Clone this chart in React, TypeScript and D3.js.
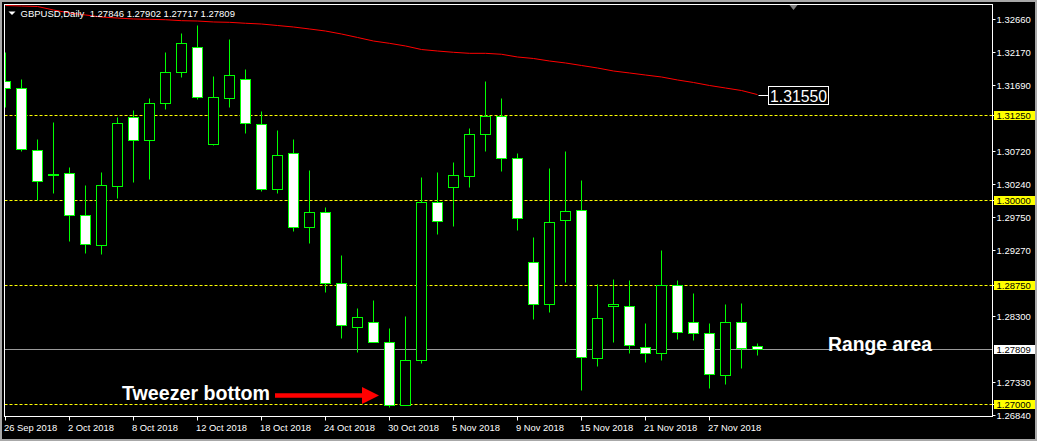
import * as d3 from 'd3';

// daily bars, 26 Sep 2018 .. 30 Nov 2018
const dates = [
  '2018-09-26', '2018-09-27', '2018-09-28', '2018-10-01', '2018-10-02', '2018-10-03', '2018-10-04', '2018-10-05',
  '2018-10-08', '2018-10-09', '2018-10-10', '2018-10-11', '2018-10-12', '2018-10-15', '2018-10-16', '2018-10-17',
  '2018-10-18', '2018-10-19', '2018-10-22', '2018-10-23', '2018-10-24', '2018-10-25', '2018-10-26', '2018-10-29',
  '2018-10-30', '2018-10-31', '2018-11-01', '2018-11-02', '2018-11-05', '2018-11-06', '2018-11-07', '2018-11-08',
  '2018-11-09', '2018-11-12', '2018-11-13', '2018-11-14', '2018-11-15', '2018-11-16', '2018-11-19', '2018-11-20',
  '2018-11-21', '2018-11-22', '2018-11-23', '2018-11-26', '2018-11-27', '2018-11-28', '2018-11-29', '2018-11-30',
];

const open = [
  1.31750, 1.31647, 1.30735, 1.30380, 1.30397, 1.29779, 1.29338, 1.30206, 1.31221, 1.30882, 1.31426, 1.31882,
  1.32250, 1.30824, 1.31500, 1.31779, 1.31118, 1.30162, 1.30691, 1.29603, 1.29824, 1.28779, 1.28132, 1.28206,
  1.27912, 1.26985, 1.27647, 1.29971, 1.30191, 1.30353, 1.30971, 1.31235, 1.30618, 1.29088, 1.28471, 1.29706,
  1.29853, 1.27676, 1.28441, 1.28441, 1.27838, 1.27750, 1.28750, 1.28206, 1.28044, 1.27426, 1.28206, 1.27846,
];
const high = [
  1.32176, 1.31779, 1.30897, 1.31147, 1.30485, 1.30221, 1.30412, 1.31221, 1.31324, 1.31500, 1.32176, 1.32456,
  1.32574, 1.31824, 1.32368, 1.31926, 1.31309, 1.31029, 1.30897, 1.30441, 1.29897, 1.29191, 1.28412, 1.28529,
  1.28118, 1.28294, 1.30338, 1.30412, 1.30559, 1.31059, 1.31750, 1.31500, 1.30691, 1.29456, 1.30471, 1.30721,
  1.30294, 1.28765, 1.28838, 1.28824, 1.28191, 1.29265, 1.28824, 1.28632, 1.28191, 1.28471, 1.28485, 1.27902,
];
const low = [
  1.31368, 1.30721, 1.30000, 1.30103, 1.29397, 1.29221, 1.29206, 1.30029, 1.30265, 1.30309, 1.31338, 1.31809,
  1.31485, 1.30809, 1.31368, 1.30985, 1.30132, 1.30103, 1.29544, 1.29368, 1.28647, 1.27971, 1.27765, 1.27905,
  1.26956, 1.26980, 1.27603, 1.29500, 1.29618, 1.30191, 1.30721, 1.30426, 1.29559, 1.28250, 1.28353, 1.28794,
  1.27206, 1.27559, 1.27912, 1.27750, 1.27618, 1.27647, 1.27956, 1.27941, 1.27235, 1.27294, 1.27529, 1.27717,
];
const close = [
  1.31647, 1.30750, 1.30279, 1.30375, 1.29779, 1.29353, 1.30221, 1.31132, 1.30882, 1.31426, 1.31882, 1.32309,
  1.31515, 1.31515, 1.31838, 1.31132, 1.30162, 1.30662, 1.29603, 1.29824, 1.28779, 1.28162, 1.28279, 1.27912,
  1.26985, 1.27647, 1.29971, 1.29691, 1.30368, 1.30971, 1.31235, 1.30618, 1.29735, 1.28471, 1.29676, 1.29838,
  1.27691, 1.28265, 1.28471, 1.27868, 1.27750, 1.28750, 1.28059, 1.28044, 1.27441, 1.28206, 1.27824, 1.27809,
];

// moving average (red)
const ma = [
  1.32860, 1.32853, 1.32846, 1.32794, 1.32750, 1.32721, 1.32691, 1.32676, 1.32662, 1.32657, 1.32651, 1.32637,
  1.32632, 1.32618, 1.32613, 1.32599, 1.32588, 1.32566, 1.32544, 1.32515, 1.32485, 1.32441, 1.32390, 1.32338,
  1.32304, 1.32265, 1.32213, 1.32191, 1.32172, 1.32157, 1.32157, 1.32143, 1.32103, 1.32081, 1.32044, 1.32015,
  1.31978, 1.31941, 1.31897, 1.31868, 1.31838, 1.31809, 1.31765, 1.31728, 1.31684, 1.31647, 1.31610, 1.31550,
];

const priceTicks = [1.3266, 1.3217, 1.3169, 1.3072, 1.3024, 1.2975, 1.2927, 1.283, 1.2733, 1.2684];
const levels = [1.3125, 1.3, 1.2875, 1.27];
const bid = 1.27809;
const tickEvery = 4;

const W = 1037;
const H = 441;
const left = 4.5, right = 992.5, top = 4.5, bottom = 416.5;
const font = "'Liberation Sans', Arial, sans-serif";

export default function App() {
  const x = d3.scaleLinear().domain([0, 1]).range([5.5, 21.5]);
  const y = d3.scaleLinear().domain([1.3, 1.3125]).range([200, 115]);
  const py = (v: number) => Math.round(y(v)) + 0.5;
  const fmt = d3.format('.5f');
  const parse = d3.timeParse('%Y-%m-%d');
  const dfmt = d3.timeFormat('%-d %b %Y');

  const maLine = d3.line<number>().x((_, i) => x(i)).y((d) => y(d));
  const last = ma.length - 1;

  return (
    <div style={{ position: 'absolute', left: 0, top: 0 }}>
      <svg width={W} height={H} style={{ display: 'block', background: '#000' }}>
        <defs>
          <clipPath id="plot">
            <rect x={left + 0.5} y={top + 0.5} width={right - left - 1} height={bottom - top - 1} />
          </clipPath>
        </defs>
        <rect x={1} y={1} width={W - 2} height={H - 2} fill="none" stroke="#a8a8a8" strokeWidth={2} />

        <g clipPath="url(#plot)">
          {levels.map((l) => (
            <line key={l} x1={left} x2={right} y1={py(l)} y2={py(l)} stroke="#ffff00" strokeDasharray="3,2" />
          ))}
          <line x1={left} x2={right} y1={py(bid)} y2={py(bid)} stroke="#9a9a9a" />

          {open.map((o, i) => {
            const cx = x(i);
            const c = close[i];
            const t = py(Math.max(o, c));
            const b = py(Math.min(o, c));
            return (
              <g key={i}>
                <line x1={cx} x2={cx} y1={py(high[i])} y2={py(low[i])} stroke="#00ff00" />
                <rect x={cx - 5} y={t} width={10} height={Math.max(b - t, 0)}
                  fill={c < o ? '#ffffff' : '#000000'} stroke="#00ff00" />
              </g>
            );
          })}

          <path d={maLine(ma) ?? ''} fill="none" stroke="#ff0000" strokeWidth={1} />
        </g>

        {/* MA price label */}
        <line x1={x(last) + 1} x2={768} y1={py(ma[last])} y2={py(ma[last])} stroke="#ffffff" />
        <rect x={768.5} y={py(ma[last]) - 9} width={60} height={18} fill="#000" stroke="#ffffff" />
        <text x={770} y={py(ma[last]) + 6} fill="#ffffff" fontFamily={font} fontSize={16.5}
          textLength={57} lengthAdjust="spacingAndGlyphs">{fmt(ma[last])}</text>

        {/* frame */}
        <rect x={left} y={top} width={right - left} height={bottom - top} fill="none" stroke="#ffffff" />
        <polygon points="789.5,5 797.5,5 793.5,10" fill="#808080" />

        {/* price axis */}
        {priceTicks.map((p) => (
          <g key={p}>
            <line x1={right} x2={right + 3} y1={py(p)} y2={py(p)} stroke="#ffffff" />
            <text x={996.5} y={py(p) + 3.5} fill="#ffffff" fontFamily={font} fontSize={9.5}>{fmt(p)}</text>
          </g>
        ))}
        {levels.map((l) => (
          <g key={l}>
            <line x1={right} x2={right + 3} y1={py(l)} y2={py(l)} stroke="#ffffff" />
            <rect x={994} y={py(l) - 4.5} width={41} height={9} fill="#ffff00" />
            <text x={996.5} y={py(l) + 3.5} fill="#000" fontFamily={font} fontSize={9.5}>{fmt(l)}</text>
          </g>
        ))}
        <rect x={994} y={py(bid) - 4.5} width={41} height={9} fill="#ffffff" />
        <text x={996.5} y={py(bid) + 3.5} fill="#000" fontFamily={font} fontSize={9.5}>{fmt(bid)}</text>

        {/* time axis */}
        {dates.map((d, i) => (i % tickEvery === 0 ? (
          <g key={d}>
            <line x1={x(i)} x2={x(i)} y1={bottom} y2={bottom + 4} stroke="#ffffff" />
            <text x={x(i) - 1.5} y={431} fill="#ffffff" fontFamily={font} fontSize={9.4}>{dfmt(parse(d)!)}</text>
          </g>
        ) : null))}

        {/* header */}
        <polygon points="8.5,11.5 15.5,11.5 12,15" fill="#ffffff" />
        <text x={20.5} y={17} fill="#ffffff" fontFamily={font} fontSize={9.5} style={{ whiteSpace: 'pre' }}>
          {`GBPUSD,Daily  ${fmt(open[last])} ${fmt(high[last])} ${fmt(low[last])} ${fmt(close[last])}`}
        </text>

        {/* annotations */}
        <text x={122} y={400} fill="#ffffff" fontFamily={font} fontWeight="bold" fontSize={20}
          textLength={148} lengthAdjust="spacingAndGlyphs">Tweezer bottom</text>
        <line x1={275} x2={366} y1={395.5} y2={395.5} stroke="#ff0000" strokeWidth={4.5} />
        <polygon points="362,387 379,395.5 362,404" fill="#ff0000" />
        <text x={828} y={351} fill="#ffffff" fontFamily={font} fontWeight="bold" fontSize={20}
          textLength={104} lengthAdjust="spacingAndGlyphs">Range area</text>
      </svg>
    </div>
  );
}
